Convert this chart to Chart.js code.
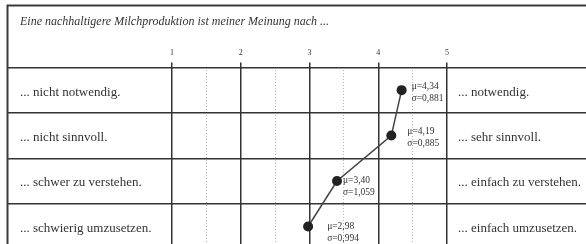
<!DOCTYPE html>
<html>
<head>
<meta charset="utf-8">
<script src="https://cdn.jsdelivr.net/npm/chart.js@4.4.1/dist/chart.umd.min.js"></script>
<style>
  html, body { margin: 0; padding: 0; background: #fff; overflow: hidden; }
</style>
</head>
<body>
<canvas id="chart" width="586" height="267"></canvas>
<script>
// --- Data ---
const title = 'Eine nachhaltigere Milchproduktion ist meiner Meinung nach ...';
const leftLabels = ['... nicht notwendig.', '... nicht sinnvoll.', '... schwer zu verstehen.', '... schwierig umzusetzen.'];
const rightLabels = ['... notwendig.', '... sehr sinnvoll.', '... einfach zu verstehen.', '... einfach umzusetzen.'];
const means = [4.34, 4.19, 3.40, 2.98];
const sds = [0.881, 0.885, 1.059, 0.994];
const scaleTicks = [1, 2, 3, 4, 5];

const ink = '#333';
const serif = '"Liberation Serif", "DejaVu Serif", serif';
Chart.defaults.font.family = serif;
Chart.defaults.color = ink;

// outer frame (top + left edge of the table)
const framePlugin = {
    id: 'frame',
    beforeDraw(chart) {
        const c = chart.ctx;
        c.save();
        c.fillStyle = '#fff';
        c.fillRect(0, 0, chart.width, chart.height);
        c.restore();
    },
    afterDraw(chart) {
        const c = chart.ctx;
        c.save();
        c.strokeStyle = '#3a3a3a';
        c.lineWidth = 2;
        c.beginPath();
        c.moveTo(7.5, chart.height);
        c.lineTo(7.5, 5.5);
        c.lineTo(chart.width, 5.5);
        c.stroke();
        c.restore();
    }
};

// mu / sigma labels next to each point
const statsPlugin = {
    id: 'stats',
    afterDatasetsDraw(chart, args, opts) {
        const c = chart.ctx;
        const pts = chart.getDatasetMeta(0).data;
        c.save();
        c.font = '9.5px ' + serif;
        c.fillStyle = ink;
        c.textAlign = 'left';
        c.textBaseline = 'middle';
        pts.forEach((p, i) => {
            const dx = opts.dx[i], dy = opts.dy[i];
            c.fillText('\u03bc=' + means[i].toFixed(2).replace('.', ','), p.x + dx, p.y + dy);
            c.fillText('\u03c3=' + sds[i].toFixed(3).replace('.', ','), p.x + dx, p.y + dy + 12);
        });
        c.restore();
    }
};

const isWhole = v => Math.abs(v - Math.round(v)) < 1e-6;

new Chart(document.getElementById('chart'), {
    type: 'line',
    data: {
        labels: leftLabels,
        datasets: [{
            data: means,
            borderColor: '#444',
            borderWidth: 1.5,
            pointRadius: 5,
            pointBackgroundColor: '#222',
            pointBorderColor: '#222',
            pointBorderWidth: 0,
            tension: 0
        }]
    },
    options: {
        indexAxis: 'y',
        responsive: false,
        animation: false,
        events: [],
        layout: { padding: { left: 20, right: 0, top: 0, bottom: 0 } },
        plugins: {
            legend: { display: false },
            tooltip: { enabled: false },
            title: {
                display: true,
                text: title,
                align: 'start',
                color: ink,
                font: { size: 12, style: 'italic', weight: 'normal' },
                padding: { top: 15, bottom: 0 }
            },
            stats: { dx: [10, 16, 6, 19], dy: [-4, -4, -1, 0] }
        },
        scales: {
            x: {
                type: 'linear',
                position: 'top',
                min: scaleTicks[0],
                max: scaleTicks[scaleTicks.length - 1],
                afterFit: s => { s.height = 38; },
                ticks: {
                    stepSize: 0.5,
                    padding: 5,
                    color: ink,
                    font: { size: 8 },
                    callback: v => scaleTicks.includes(v) ? String(v) : ''
                },
                grid: {
                    tickLength: 5,
                    color: ctx => isWhole(ctx.tick.value) ? '#333' : '#b5b5b5',
                    tickColor: ctx => isWhole(ctx.tick.value) ? '#333' : 'rgba(0,0,0,0)',
                    lineWidth: ctx => isWhole(ctx.tick.value) ? 1.5 : 1
                },
                border: {
                    display: false,
                    dash: ctx => (ctx.tick && !isWhole(ctx.tick.value)) ? [1, 2] : []
                }
            },
            y: {
                type: 'category',
                position: 'left',
                offset: true,
                afterFit: s => { s.width = 152; },
                // padding only reserves room below the last row here
                ticks: { crossAlign: 'far', padding: 10, labelOffset: 2, color: ink, font: { size: 13 } },
                grid: { offset: true, color: '#333', tickColor: '#333', lineWidth: 1.5, tickLength: 165 },
                border: { display: false }
            },
            y2: {
                type: 'category',
                position: 'right',
                labels: rightLabels,
                offset: true,
                afterFit: s => { s.width = 139; },
                // long tick lines reach the right edge; pull labels back in
                ticks: { padding: -128, labelOffset: 2, color: ink, font: { size: 13 } },
                grid: { offset: true, drawOnChartArea: false, drawTicks: true, tickColor: '#333', lineWidth: 1.5, tickLength: 139 },
                border: { display: false }
            }
        }
    },
    plugins: [framePlugin, statsPlugin]
});
</script>
</body>
</html>
